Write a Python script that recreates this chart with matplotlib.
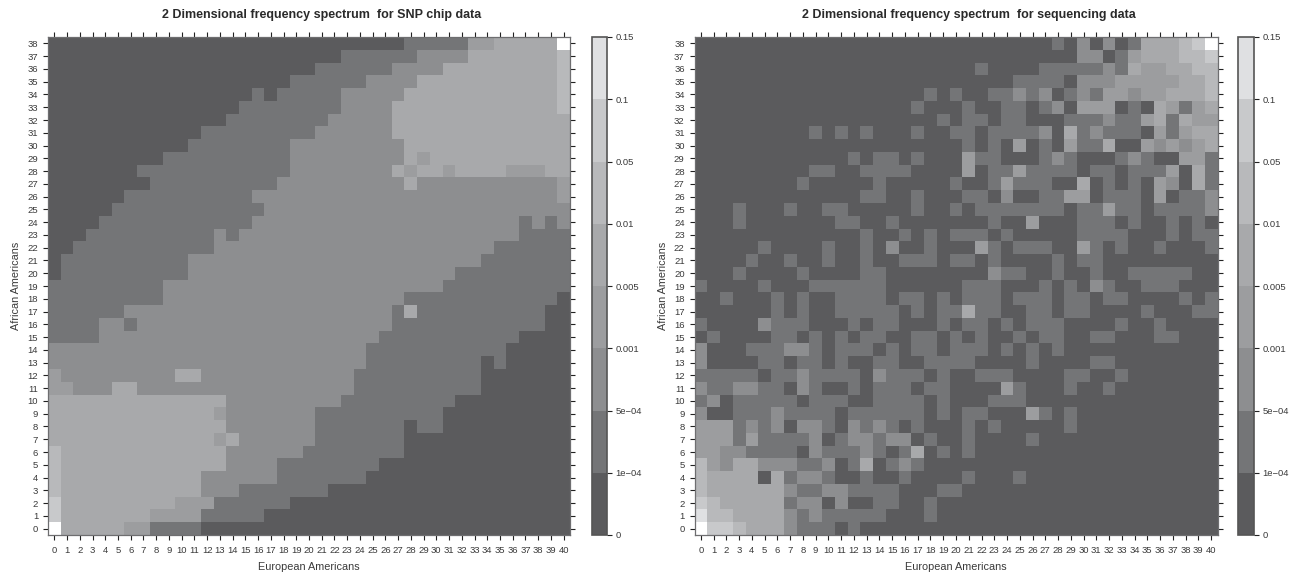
import numpy as np
import matplotlib
matplotlib.use("Agg")
import matplotlib.pyplot as plt
from matplotlib.colors import ListedColormap, BoundaryNorm
from matplotlib.cm import ScalarMappable

plt.rcParams['font.family'] = ['Liberation Sans', 'DejaVu Sans']

EA_LABELS = list(range(0, 41))
AA_LABELS = list(range(0, 39))
BOUNDS = [0, 1e-4, 5e-4, 0.001, 0.005, 0.01, 0.05, 0.1, 0.15]
BOUND_LABELS = ['0', '1e\u221204', '5e\u221204', '0.001', '0.005', '0.01', '0.05', '0.1', '0.15']
LEVEL_VALUES = [5e-5, 3e-4, 7e-4, 0.003, 0.007, 0.03, 0.07, 0.12, 0.2]
GREYS = ['#5b5b5d', '#747577', '#8d8e90', '#9c9d9f', '#a8a9ab', '#b8b9bb', '#c8c9cb', '#dfe0e2']
TITLES = ['2 Dimensional frequency spectrum  for SNP chip data',
          '2 Dimensional frequency spectrum  for sequencing data']

# Each row, from African Americans = 38 down to 0: class:end-column runs.
SNP_RUNS = [
    "0:28 1:33 3:35 4:40 8:41",
    "0:23 1:29 2:33 4:40 5:41",
    "0:21 1:27 2:31 4:40 5:41",
    "0:19 1:25 2:29 4:40 5:41",
    "0:16 1:17 0:18 1:23 2:28 4:40 5:41",
    "0:15 1:23 2:27 4:40 5:41",
    "0:14 1:22 2:27 4:41",
    "0:12 1:21 2:27 4:41",
    "0:11 1:19 2:28 4:41",
    "0:9 1:19 2:28 4:29 3:30 4:41",
    "0:7 1:19 2:27 4:28 3:29 4:31 3:32 4:36 3:39 4:41",
    "0:8 1:18 2:28 4:29 2:40 3:41",
    "0:6 1:16 2:40 3:41",
    "0:5 1:17 2:41",
    "0:4 1:16 2:37 1:38 2:39 1:40 2:41",
    "0:3 1:13 2:14 1:15 2:37 1:41",
    "0:2 1:13 2:35 1:41",
    "0:1 1:11 2:34 1:41",
    "0:1 1:11 2:32 1:41",
    "1:9 2:31 1:41",
    "1:9 2:28 1:40 0:41",
    "1:6 2:27 1:28 4:29 1:39 0:41",
    "1:4 2:6 1:7 2:27 1:39 0:41",
    "1:4 2:26 1:37 0:41",
    "2:25 1:36 0:41",
    "2:25 1:34 0:35 1:36 0:41",
    "3:1 2:10 4:12 2:24 1:34 0:41",
    "3:2 2:5 4:7 2:24 1:34 0:41",
    "4:14 2:23 1:32 0:41",
    "4:13 3:14 2:21 1:31 0:41",
    "4:14 2:21 1:28 0:29 1:31 0:41",
    "4:13 3:14 4:15 2:21 1:28 0:41",
    "5:1 4:14 2:20 1:28 0:41",
    "5:1 4:14 2:18 1:26 0:41",
    "5:1 4:12 2:18 1:25 0:41",
    "5:1 4:12 2:15 1:22 0:41",
    "6:1 4:10 3:13 1:19 0:41",
    "6:1 4:8 3:12 1:17 0:41",
    "8:1 4:6 3:8 1:12 0:41",
]

# Each row, from 38 down to 0: column(s)=class, everything else is class 0.
SEQ_CELLS = [
    "28=1 30=2 32=2 34=1 35-37=4 38=5 39=6 40=8",
    "30-31=2 33=1 34=3 35-37=4 38-39=5 40=6",
    "22=1 27-31=1 32=2 33=1 34=4 35-36=3 37-38=4 39=5 40=5",
    "25-28=1 30=2 31-32=2 33-37=3 38-39=4 40=5",
    "18=1 20=1 23-24=1 25=2 26=1 27=2 29=1 30=2 31=1 32-33=3 34=2 35-36=3 37-39=4 40=5",
    "17=1 21=1 24-25=1 27=1 28=2 30-32=3 34=1 36=4 37=3 38=1 39=3 40=4",
    "19=1 21-22=1 24-25=1 29-31=1 32=2 33-34=1 35=3 36=4 37=1 38=4 39=3 40=3",
    "9=1 11=1 13=1 17=1 20-21=1 23-26=1 27=2 29=4 30=1 31=2 32-34=1 36=3 37=1 38=3 39-40=4",
    "21=1 23=1 25=3 27=1 29=3 30-31=1 32=4 35=3 36=2 37=3 38=2 39=3 40=4",
    "12=1 14-15=1 17=1 21=3 22-23=1 27=1 28=2 29=1 33=1 34=2 35=1 38-39=3 40=1",
    "9-10=1 13-16=1 21=3 23-24=1 25=3 26-29=1 31-32=1 34-36=1 37=3 39=4 40=1",
    "8=1 14=1 20=1 23=1 24=3 25-27=1 30=4 32=1 34=1 36=3 37=2 39=4 40=1",
    "13-14=1 17=1 21-22=1 24=2 27-28=1 29-30=3 32-34=1 36=3 38-39=1 40=2",
    "3=1 7=1 10-11=1 17=1 20=1 22-28=1 30-31=1 32=3 33-34=1 36-39=1 40=2",
    "3=1 11-12=1 15=1 23=1 26=3 30-32=1 34=1 37=1 39=1",
    "13=1 16=1 18=1 20-22=1 24=1 30-33=1 37=1 39-40=1",
    "5=1 10=1 13=1 15=2 18=1 22=3 23=1 25-27=1 30=3 31=1 33=1 36=1 40=1",
    "4=1 7=1 10=1 13=1 16-18=1 20-21=1 23=1 28=1 30-31=1",
    "3=1 8=1 13-14=1 23=2 24-25=1 28=1 31=1 34-38=1",
    "0=1 5=1 9-14=1 21-23=1 27=1 29=1 31=2 32=1 35-37=1",
    "2=1 6=1 8=1 11-14=1 16-17=1 19=1 21-23=1 25-27=1 29-30=1 32-33=1 38=1 40=1",
    "6=1 8=1 11-15=1 17=1 19-20=1 21=4 22-23=1 26-27=1 29-30=1 35=1 39-40=1",
    "0=1 5=2 6-8=1 12=1 14-15=1 19=1 21-22=1 24=1 26-28=1 33=1 36=1",
    "1=1 6-7=1 9=1 11=1 13-14=1 17-18=1 20=1 22=1 25=1 27-28=1 31-32=1 36-37=1",
    "0=2 4-6=1 7-8=2 9=1 11-13=1 15=1 17-18=1 20-22=1 24=1 26=1 28=1",
    "0=2 5-6=1 8=1 9=1 11=1 14-15=1 18-21=1 26=1 31-32=1",
    "0-4=1 6-7=1 8=2 9-12=1 14=2 15-17=1 19=1 22-24=1 29-30=1 33=1",
    "0=2 1-2=1 3-4=2 5-6=1 8=2 9=1 12=1 14-16=1 18-19=1 24=3 25=1 29=1 32=1",
    "0=1 1=2 3-7=1 9-11=1 14-17=1 19=1 23-25=1",
    "0=2 3-5=1 6=2 7-10=1 12-17=1 19=1 21-22=1 26=3 27=1 29=1",
    "0-2=3 3=1 4=2 5=1 6=2 8-9=2 10=1 12=2 13=1 14=2 15=1 17=1 21=1 23=1 29=1",
    "0-2=3 3=1 4=3 5-8=1 9=2 11=1 12-13=2 14=1 15-16=2 18=1 21=1 26=1",
    "0-1=3 2-3=2 4-7=1 9=2 10-12=1 13=2 14=1 16=1 17=4 19=1 21=1",
    "0=5 1=3 2=2 3-4=4 5-7=2 8-9=1 10=2 12=1 13=4 15=1 16=2 17=1",
    "0=5 1-4=4 6=4 7=1 8-9=2 10=1 13=1 16=1 21=1 25=1",
    "0=5 1-6=4 7=2 8-9=1 10-11=2 12-15=1 19-20=1",
    "0=6 1=5 2-6=4 7=1 8-9=2 11=2 14-15=1 18=1",
    "0=7 1-2=5 3-6=4 7=2 8=1 9=2 10-14=1 18=1",
    "0=8 1=6 2=6 3=5 4-6=4 7=2 8-10=1 12=1",
]


def read_runs(rows):
    grid = np.zeros((len(rows), 41), dtype=int)
    for i, row in enumerate(rows):
        start = 0
        for part in row.split():
            lev, stop = part.split(':')
            grid[i, start:int(stop)] = int(lev)
            start = int(stop)
        assert start == 41
    return grid[::-1]


def read_cells(rows):
    grid = np.zeros((len(rows), 41), dtype=int)
    for i, row in enumerate(rows):
        for part in row.split():
            cols, lev = part.split('=')
            a, _, b = cols.partition('-')
            grid[i, int(a):int(b or a) + 1] = int(lev)
    return grid[::-1]


W, H = 1289, 573
fig = plt.figure(figsize=(W / 100, H / 100), dpi=100, facecolor='white')


def box(l, t, r, b):
    return [l / W, 1 - b / H, (r - l) / W, (b - t) / H]


cmap = ListedColormap(GREYS)
cmap.set_over('#ffffff')
norm = BoundaryNorm(BOUNDS, cmap.N)
values = np.array(LEVEL_VALUES)
TXT = '#3a3a3a'
panels = [(read_runs(SNP_RUNS), (48, 37, 570, 535), (592, 37, 607, 535)),
          (read_cells(SEQ_CELLS), (694.5, 37, 1217.5, 535), (1238, 37, 1254, 535))]

for title, (grid, abox, cbox) in zip(TITLES, panels):
    ax = fig.add_axes(box(*abox))
    ax.pcolormesh(np.arange(-0.5, 41), np.arange(-0.5, 39), values[grid], cmap=cmap, norm=norm)
    ax.set_xticks(EA_LABELS, [str(v) for v in EA_LABELS])
    ax.set_yticks(AA_LABELS, [str(v) for v in AA_LABELS])
    ax.tick_params(axis='both', which='major', direction='out', length=3.6, width=0.8,
                   color='#222222', labelsize=6.8, labelcolor=TXT,
                   top=True, right=True, labeltop=False, labelright=False)
    ax.tick_params(axis='x', pad=4.0)
    ax.tick_params(axis='y', pad=3.5)
    for s in ax.spines.values():
        s.set_color('#6e6e70')
        s.set_linewidth(0.9)
    ax.set_title(title, fontsize=9.0, fontweight='bold', color='#2a2a2a', pad=13.5, x=0.524)
    ax.set_xlabel('European Americans', fontsize=7.8, color=TXT, labelpad=5.5)
    ax.set_ylabel('African Americans', fontsize=7.8, color=TXT, labelpad=4.5)

    cax = fig.add_axes(box(*cbox))
    sm = ScalarMappable(norm=norm, cmap=cmap)
    cb = fig.colorbar(sm, cax=cax, spacing='uniform', ticks=BOUNDS, extend='neither')
    cb.set_ticklabels(BOUND_LABELS)
    cb.ax.tick_params(length=3.6, width=0.8, color='#222222', labelsize=6.8, labelcolor=TXT, pad=2.5)
    cb.outline.set_edgecolor('#555555')
    cb.outline.set_linewidth(1.2)
    cb.ax.minorticks_off()

fig.savefig('out.png', dpi=100)
